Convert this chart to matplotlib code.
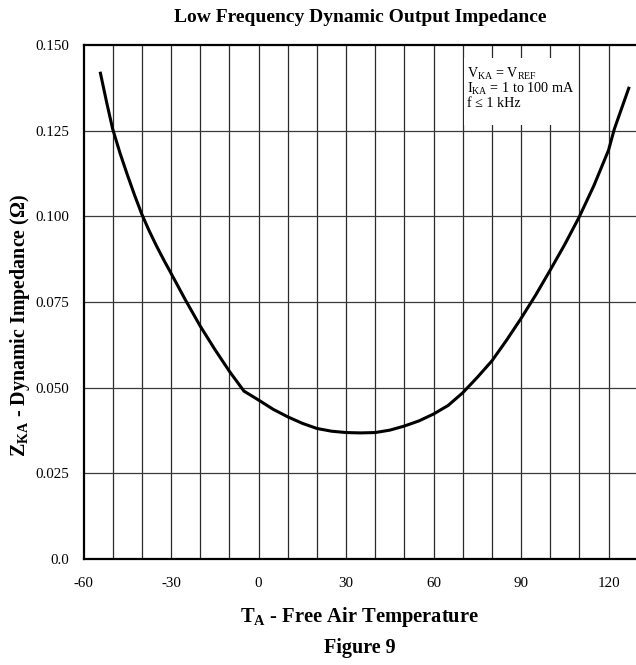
import matplotlib
matplotlib.use("Agg")
import matplotlib.pyplot as plt
from matplotlib.patches import Rectangle

plt.rcParams['font.family'] = ['Liberation Serif', 'DejaVu Serif']
plt.rcParams['mathtext.fontset'] = 'custom'
plt.rcParams['mathtext.rm'] = 'Liberation Serif'
plt.rcParams['mathtext.it'] = 'Liberation Serif'
plt.rcParams['mathtext.bf'] = 'Liberation Serif:bold'

# Data
temperature = [-54.3, -52, -50, -47.5, -45, -42.5, -40, -37.5, -35, -32.5, -30, -25, -20,
               -15, -10, -5, 0, 5, 10, 15, 20, 25, 30, 35, 40, 45, 50, 55, 60, 65, 70,
               75, 80, 85, 90, 95, 100, 105, 110, 115, 120, 122, 127.1]
impedance = [0.1422, 0.1330, 0.1255, 0.1185, 0.1122, 0.1062, 0.1006, 0.0958, 0.0914,
             0.0873, 0.0834, 0.0755, 0.0680, 0.0612, 0.0548, 0.0490, 0.0464, 0.0437,
             0.0415, 0.0396, 0.0381, 0.0373, 0.0369, 0.0368, 0.0369, 0.0376, 0.0388,
             0.0403, 0.0423, 0.0448, 0.0485, 0.0530, 0.0578, 0.0638, 0.0702, 0.0770,
             0.0843, 0.0918, 0.0999, 0.1090, 0.1193, 0.1255, 0.1378]

x_ticks = [-60, -30, 0, 30, 60, 90, 120]
x_tick_labels = ['-60', '-30', '0', '30', '60', '90', '120']
y_ticks = [0.0, 0.025, 0.05, 0.075, 0.1, 0.125, 0.15]
y_tick_labels = ['0.0', '0.025', '0.050', '0.075', '0.100', '0.125', '0.150']
x_grid = list(range(-50, 131, 10))

W, H = 636, 665
fig = plt.figure(figsize=(W / 100, H / 100), dpi=100)
left, right, top, bottom = 83.5, 637.7, 45, 559
ax = fig.add_axes([left / W, 1 - bottom / H, (right - left) / W, (bottom - top) / H])

ax.set_xlim(-60, 130)
ax.set_ylim(0, 0.15)

for xv in x_grid:
    ax.axvline(xv, color='#2a2a2a', lw=0.9, zorder=1)
for yv in y_ticks[1:-1]:
    ax.axhline(yv, color='#3a3a3a', lw=0.9, zorder=1)

# white annotation box
ax.add_patch(Rectangle((70.4, 0.1266), 38.0, 0.0196, facecolor='white',
                       edgecolor='none', zorder=2))
fs_box = 10.2
ax.text(71.5, 0.1415, r'V$_{\rm KA}$ = V$_{\rm REF}$', fontsize=fs_box, va='center', ha='left', zorder=3)
ax.text(71.5, 0.1372, r'I$_{\rm KA}$ = 1 to 100 mA', fontsize=fs_box, va='center', ha='left', zorder=3)
ax.text(71.5, 0.1328, 'f ≤ 1 kHz', fontsize=fs_box, va='center', ha='left', zorder=3)

ax.plot(temperature, impedance, color='black', lw=2.2, zorder=4, solid_capstyle='butt')

ax.set_xticks(x_ticks)
ax.set_xticklabels(x_tick_labels, fontsize=10.8)
ax.set_yticks(y_ticks)
ax.set_yticklabels(y_tick_labels, fontsize=10.8)
ax.tick_params(axis='x', length=0, pad=13)
ax.tick_params(axis='y', length=0, pad=10)

for s in ['left', 'bottom', 'top', 'right']:
    ax.spines[s].set_linewidth(1.6)
    ax.spines[s].set_color('black')

cx = (left + min(right, W)) / 2 / W
fig.text(cx, 1 - 18 / H, 'Low Frequency Dynamic Output Impedance', ha='center', va='center',
         fontsize=14, fontweight='bold')
fig.text(cx, 1 - 617 / H, r'T$_{\mathbf{A}}$ - Free Air Temperature', ha='center', va='center',
         fontsize=14.8, fontweight='bold')
fig.text(cx, 1 - 648 / H, 'Figure 9', ha='center', va='center', fontsize=14.5, fontweight='bold')
fig.text(20 / W, 1 - 325 / H, r'Z$_{\mathbf{KA}}$ - Dynamic Impedance (Ω)', ha='center', va='center',
         rotation=90, fontsize=14.4, fontweight='bold')

fig.savefig('out.png', dpi=100)
